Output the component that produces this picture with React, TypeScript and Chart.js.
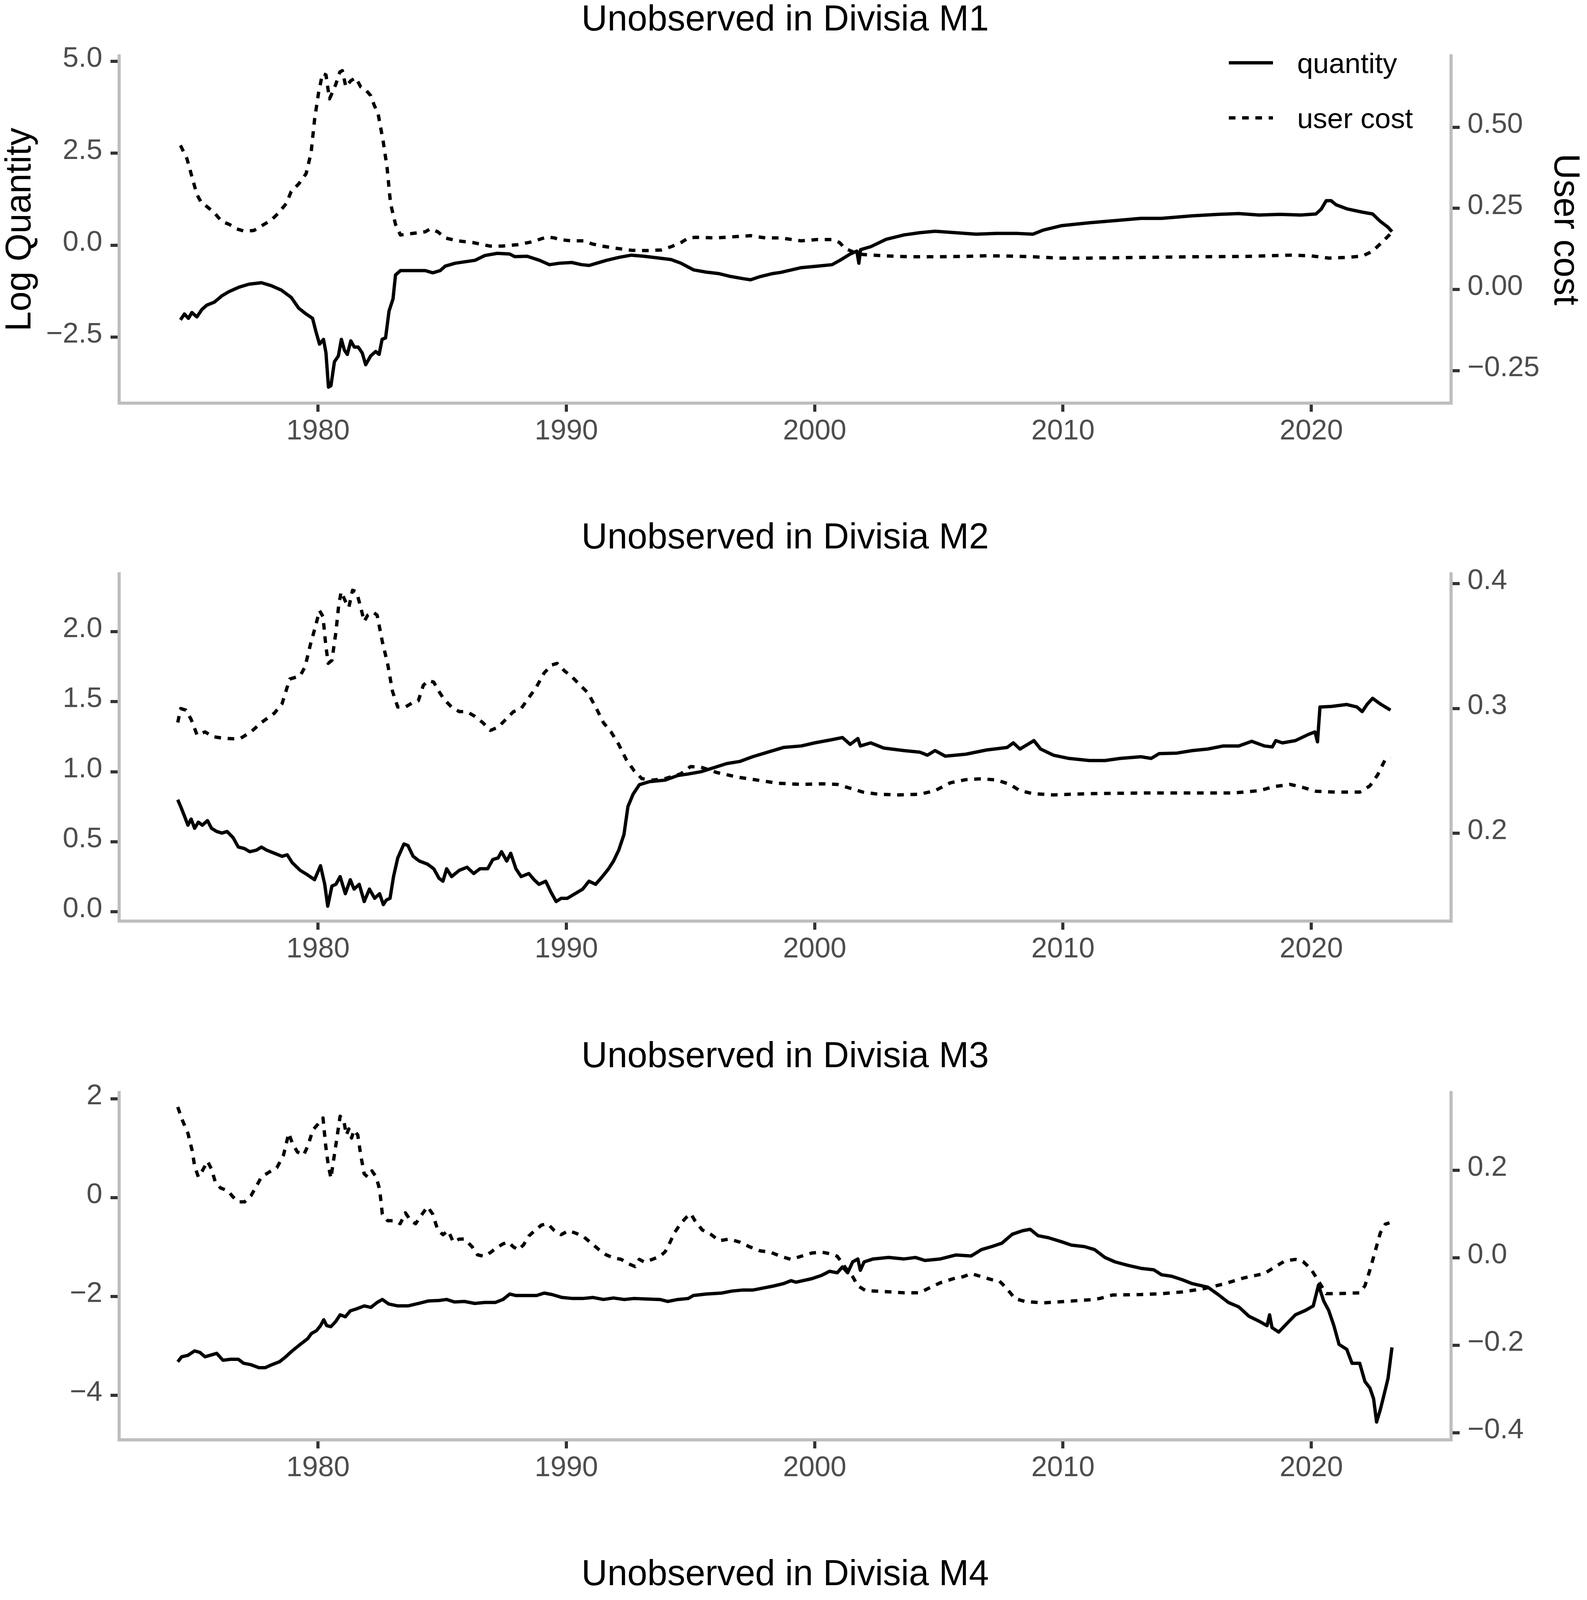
import React, { useEffect, useRef } from "react";
import { Chart, registerables } from "chart.js";

Chart.register(...registerables);

const FONT = "'Liberation Sans', Arial, Helvetica, sans-serif";

// ---------------- axis / text data ----------------
const xTickYears = [1980, 1990, 2000, 2010, 2020];
const xRange = [1971.99, 2025.63];
const panelTitles = [
  "Unobserved in Divisia M1",
  "Unobserved in Divisia M2",
  "Unobserved in Divisia M3",
  "Unobserved in Divisia M4",
];
const seriesLabels = ["quantity", "user cost"];
const leftAxisTitle = "Log Quantity";
const rightAxisTitle = "User cost";

const m1LeftTicks = [-2.5, 0, 2.5, 5];
const m1RightTicks = [-0.25, 0, 0.25, 0.5];
const m2LeftTicks = [0, 0.5, 1, 1.5, 2];
const m2RightTicks = [0.2, 0.3, 0.4];
const m3LeftTicks = [-4, -2, 0, 2];
const m3RightTicks = [-0.4, -0.2, 0, 0.2];
const m4LeftTicks = [-2, 0, 2];
const m4RightTicks = [-0.2, 0, 0.2];

// ---------------- series data: [year, value] ----------------
const m1Quantity: [number, number][] = [
  [1974.46,-2.03],[1974.62,-1.87],[1974.78,-1.99],[1974.92,-1.83],[1975.12,-1.95],[1975.32,-1.75],[1975.52,-1.63],[1975.82,-1.55],
  [1976.12,-1.38],[1976.42,-1.26],[1976.82,-1.14],[1977.22,-1.06],[1977.72,-1.02],[1978.12,-1.10],[1978.52,-1.22],[1978.92,-1.42],
  [1979.22,-1.71],[1979.52,-1.87],[1979.78,-1.99],[1979.92,-2.36],[1980.06,-2.69],[1980.22,-2.56],[1980.32,-2.93],[1980.42,-3.86],
  [1980.52,-3.82],[1980.66,-3.17],[1980.82,-3.01],[1980.94,-2.56],[1981.06,-2.85],[1981.18,-2.97],[1981.32,-2.60],[1981.46,-2.77],
  [1981.62,-2.77],[1981.78,-2.93],[1981.92,-3.25],[1982.12,-3.01],[1982.32,-2.89],[1982.46,-2.97],[1982.58,-2.56],[1982.72,-2.52],
  [1982.86,-1.79],[1983.02,-1.46],[1983.12,-0.81],[1983.32,-0.69],[1983.82,-0.69],[1984.32,-0.69],[1984.62,-0.75],[1984.92,-0.69],
  [1985.12,-0.57],[1985.52,-0.49],[1985.92,-0.45],[1986.32,-0.41],[1986.72,-0.28],[1987.22,-0.22],[1987.72,-0.24],[1987.92,-0.31],
  [1988.42,-0.30],[1988.92,-0.41],[1989.32,-0.53],[1989.72,-0.49],[1990.22,-0.47],[1990.62,-0.53],[1990.92,-0.55],[1991.22,-0.49],
  [1991.62,-0.41],[1992.12,-0.33],[1992.62,-0.27],[1993.12,-0.30],[1993.62,-0.34],[1994.22,-0.39],[1994.62,-0.49],[1995.12,-0.67],
  [1995.62,-0.73],[1996.12,-0.77],[1996.62,-0.85],[1997.12,-0.91],[1997.42,-0.94],[1997.82,-0.85],[1998.32,-0.77],[1998.63,-0.74],
  [1999.46,-0.61],[2000.08,-0.57],[2000.7,-0.53],[2001.02,-0.41],[2001.43,-0.24],[2001.7,-0.16],[2001.78,-0.49],[2001.85,-0.12],
  [2002.26,-0.04],[2002.88,0.16],[2003.6,0.28],[2004.23,0.34],[2004.85,0.38],[2005.68,0.34],[2006.5,0.30],[2007.34,0.32],
  [2008.17,0.32],[2008.79,0.30],[2009.2,0.41],[2009.93,0.53],[2011.07,0.61],[2012.1,0.67],[2013.14,0.73],[2013.97,0.73],
  [2015.21,0.80],[2016.25,0.84],[2017.08,0.86],[2017.9,0.82],[2018.74,0.84],[2019.57,0.82],[2020.19,0.85],[2020.4,0.98],
  [2020.6,1.21],[2020.8,1.21],[2021.0,1.10],[2021.43,0.99],[2022.05,0.90],[2022.47,0.85],[2022.78,0.65],[2023.09,0.49],[2023.25,0.37],
];
const m1UserCost: [number, number][] = [
  [1974.46,0.444],[1974.72,0.403],[1974.92,0.348],[1975.12,0.293],[1975.32,0.265],[1975.52,0.256],[1975.82,0.237],[1976.12,0.210],
  [1976.42,0.201],[1976.72,0.187],[1977.02,0.180],[1977.42,0.182],[1977.72,0.196],[1978.12,0.214],[1978.42,0.237],[1978.72,0.265],
  [1978.92,0.302],[1979.22,0.325],[1979.52,0.357],[1979.72,0.421],[1979.86,0.523],[1980.02,0.605],[1980.18,0.665],[1980.32,0.661],
  [1980.46,0.587],[1980.62,0.614],[1980.72,0.633],[1980.88,0.670],[1980.98,0.674],[1981.12,0.624],[1981.32,0.643],[1981.52,0.652],
  [1981.72,0.624],[1981.92,0.615],[1982.12,0.597],[1982.26,0.568],[1982.42,0.541],[1982.62,0.458],[1982.78,0.376],[1982.92,0.265],
  [1983.12,0.201],[1983.32,0.168],[1983.82,0.173],[1984.32,0.178],[1984.52,0.187],[1984.82,0.178],[1985.12,0.159],[1985.62,0.150],
  [1986.22,0.145],[1986.92,0.134],[1987.42,0.134],[1988.02,0.138],[1988.62,0.147],[1989.22,0.162],[1989.52,0.159],[1989.72,0.154],
  [1990.22,0.150],[1990.72,0.150],[1991.02,0.141],[1991.42,0.134],[1992.02,0.127],[1992.62,0.121],[1993.22,0.120],[1993.82,0.122],
  [1994.22,0.132],[1994.62,0.145],[1994.92,0.159],[1995.22,0.161],[1996.02,0.159],[1996.82,0.163],[1997.42,0.166],[1998.02,0.159],
  [1998.63,0.159],[1999.46,0.150],[2000.08,0.154],[2000.7,0.154],[2001.0,0.145],[2001.22,0.127],[2001.64,0.113],[2001.95,0.108],
  [2002.78,0.104],[2003.81,0.101],[2004.85,0.101],[2005.89,0.102],[2006.92,0.104],[2007.96,0.103],[2008.79,0.101],[2009.82,0.097],
  [2011.07,0.097],[2013.14,0.099],[2015.21,0.101],[2017.28,0.102],[2019.15,0.106],[2019.98,0.104],[2020.7,0.097],[2021.43,0.099],
  [2022.05,0.103],[2022.47,0.118],[2022.78,0.141],[2023.09,0.164],[2023.25,0.177],
];

const m2Quantity: [number, number][] = [
  [1974.35,0.80],[1974.47,0.751],[1974.62,0.684],[1974.76,0.618],[1974.89,0.662],[1975.03,0.596],[1975.18,0.64],[1975.34,0.618],
  [1975.55,0.651],[1975.71,0.596],[1975.92,0.573],[1976.13,0.562],[1976.34,0.573],[1976.58,0.529],[1976.79,0.462],[1977.04,0.451],
  [1977.25,0.429],[1977.52,0.44],[1977.72,0.462],[1977.93,0.44],[1978.24,0.418],[1978.55,0.396],[1978.76,0.407],[1978.96,0.351],
  [1979.28,0.296],[1979.59,0.262],[1979.86,0.229],[1980.1,0.329],[1980.27,0.196],[1980.39,0.04],[1980.56,0.184],[1980.72,0.196],
  [1980.89,0.251],[1981.1,0.129],[1981.3,0.229],[1981.45,0.162],[1981.66,0.196],[1981.86,0.073],[1982.07,0.162],[1982.28,0.096],
  [1982.48,0.129],[1982.63,0.051],[1982.75,0.084],[1982.9,0.096],[1983.04,0.251],[1983.21,0.384],[1983.46,0.484],[1983.62,0.473],
  [1983.83,0.396],[1984.08,0.362],[1984.41,0.34],[1984.66,0.307],[1984.87,0.24],[1985.03,0.218],[1985.18,0.307],[1985.38,0.251],
  [1985.69,0.296],[1986.0,0.318],[1986.27,0.273],[1986.52,0.307],[1986.83,0.307],[1987.04,0.373],[1987.25,0.384],[1987.39,0.429],
  [1987.6,0.362],[1987.76,0.418],[1987.97,0.307],[1988.18,0.251],[1988.49,0.273],[1988.7,0.229],[1988.9,0.196],[1989.17,0.218],
  [1989.38,0.14],[1989.59,0.073],[1989.79,0.096],[1990.04,0.096],[1990.35,0.129],[1990.66,0.162],[1990.91,0.218],[1991.18,0.196],
  [1991.45,0.251],[1991.7,0.307],[1991.9,0.362],[1992.11,0.44],[1992.32,0.551],[1992.48,0.751],[1992.69,0.84],[1992.94,0.907],
  [1993.35,0.929],[1993.98,0.94],[1994.49,0.973],[1994.91,0.984],[1995.42,1.0],[1995.94,1.029],[1996.46,1.058],[1996.98,1.073],
  [1997.5,1.107],[1998.12,1.14],[1998.74,1.173],[1999.46,1.184],[2000.0,1.206],[2000.7,1.229],[2001.12,1.244],[2001.43,1.195],
  [2001.74,1.237],[2001.84,1.184],[2002.26,1.206],[2002.78,1.169],[2003.6,1.151],[2004.23,1.14],[2004.54,1.118],[2004.85,1.151],
  [2005.26,1.111],[2006.09,1.125],[2006.92,1.155],[2007.75,1.173],[2008.0,1.206],[2008.27,1.162],[2008.58,1.195],[2008.83,1.222],
  [2009.1,1.162],[2009.62,1.118],[2010.24,1.095],[2011.07,1.08],[2011.69,1.08],[2012.31,1.095],[2013.14,1.107],[2013.55,1.095],
  [2013.87,1.129],[2014.59,1.133],[2015.21,1.151],[2015.83,1.162],[2016.46,1.184],[2017.08,1.184],[2017.6,1.217],[2018.11,1.184],
  [2018.43,1.177],[2018.57,1.222],[2018.84,1.206],[2019.36,1.222],[2019.88,1.266],[2020.15,1.284],[2020.25,1.213],[2020.35,1.462],
  [2020.81,1.466],[2021.43,1.48],[2021.84,1.462],[2022.05,1.429],[2022.26,1.484],[2022.47,1.524],[2022.78,1.484],[2023.19,1.44],
];
const m2UserCost: [number, number][] = [
  [1974.35,0.2887],[1974.47,0.2999],[1974.68,0.2986],[1974.89,0.2912],[1975.13,0.2787],[1975.45,0.2812],[1975.76,0.2774],[1976.17,0.2762],
  [1976.58,0.2757],[1976.89,0.2762],[1977.3,0.2812],[1977.72,0.2887],[1978.24,0.2962],[1978.55,0.3037],[1978.86,0.3235],[1979.28,0.3260],
  [1979.48,0.3335],[1979.69,0.3509],[1979.9,0.3659],[1980.06,0.3783],[1980.2,0.3734],[1980.31,0.3509],[1980.41,0.3360],[1980.56,0.3385],
  [1980.72,0.3610],[1980.83,0.3821],[1980.93,0.3933],[1981.1,0.3858],[1981.24,0.3808],[1981.39,0.3946],[1981.55,0.3933],[1981.72,0.3808],
  [1981.86,0.3696],[1982.0,0.3746],[1982.22,0.3770],[1982.38,0.3746],[1982.59,0.3534],[1982.8,0.3360],[1983.0,0.3136],[1983.21,0.3011],
  [1983.52,0.3011],[1983.83,0.3049],[1984.04,0.3061],[1984.24,0.3185],[1984.45,0.3223],[1984.66,0.3210],[1984.87,0.3136],[1985.07,0.3074],
  [1985.38,0.3011],[1985.69,0.2974],[1986.0,0.2974],[1986.31,0.2937],[1986.63,0.2887],[1986.94,0.2824],[1987.25,0.2849],[1987.56,0.2912],
  [1987.87,0.2974],[1988.18,0.2999],[1988.49,0.3086],[1988.8,0.3173],[1989.11,0.3285],[1989.42,0.3348],[1989.63,0.3360],[1989.94,0.3298],
  [1990.25,0.3248],[1990.56,0.3185],[1990.87,0.3124],[1991.18,0.3011],[1991.49,0.2887],[1991.8,0.2812],[1992.11,0.2712],[1992.42,0.2588],
  [1992.73,0.2501],[1993.04,0.2438],[1993.46,0.2426],[1993.98,0.2438],[1994.6,0.2476],[1995.0,0.2534],[1995.42,0.2530],[1996.04,0.2488],
  [1996.87,0.2451],[1997.7,0.2426],[1998.53,0.2401],[1999.46,0.2392],[2000.29,0.2397],[2000.91,0.2392],[2001.33,0.2367],[2001.95,0.2330],
  [2002.57,0.2313],[2003.4,0.2308],[2004.23,0.2313],[2004.85,0.2342],[2005.47,0.2405],[2006.09,0.2430],[2006.72,0.2437],[2007.34,0.2427],
  [2007.86,0.2392],[2008.27,0.2342],[2008.79,0.2318],[2009.62,0.2308],[2011.07,0.2318],[2013.14,0.2323],[2015.21,0.2323],[2016.87,0.2323],
  [2017.9,0.2342],[2018.53,0.2375],[2019.15,0.2392],[2019.67,0.2367],[2020.19,0.2337],[2021.02,0.2330],[2021.95,0.2330],[2022.36,0.2380],
  [2022.67,0.2467],[2022.98,0.2592],[2023.19,0.2605],
];

const m3Quantity: [number, number][] = [
  [1974.35,-3.32],[1974.51,-3.22],[1974.76,-3.19],[1975.03,-3.10],[1975.24,-3.13],[1975.45,-3.22],[1975.65,-3.19],[1975.92,-3.15],
  [1976.17,-3.29],[1976.48,-3.27],[1976.79,-3.27],[1977.0,-3.35],[1977.3,-3.38],[1977.62,-3.44],[1977.87,-3.44],[1978.14,-3.38],
  [1978.45,-3.32],[1978.7,-3.22],[1978.96,-3.10],[1979.28,-2.97],[1979.59,-2.85],[1979.73,-2.75],[1979.94,-2.69],[1980.1,-2.59],
  [1980.23,-2.47],[1980.35,-2.59],[1980.52,-2.61],[1980.72,-2.50],[1980.89,-2.37],[1981.1,-2.41],[1981.3,-2.29],[1981.55,-2.25],
  [1981.86,-2.19],[1982.13,-2.22],[1982.38,-2.12],[1982.59,-2.06],[1982.84,-2.15],[1983.21,-2.19],[1983.62,-2.19],[1984.04,-2.14],
  [1984.45,-2.09],[1984.87,-2.08],[1985.18,-2.06],[1985.49,-2.11],[1985.9,-2.10],[1986.31,-2.14],[1986.73,-2.12],[1987.14,-2.12],
  [1987.45,-2.06],[1987.72,-1.95],[1987.97,-1.98],[1988.39,-1.98],[1988.8,-1.98],[1989.11,-1.93],[1989.42,-1.96],[1989.83,-2.02],
  [1990.25,-2.04],[1990.66,-2.04],[1991.08,-2.02],[1991.49,-2.06],[1991.9,-2.03],[1992.32,-2.06],[1992.73,-2.04],[1993.25,-2.05],
  [1993.77,-2.06],[1994.08,-2.10],[1994.49,-2.06],[1994.91,-2.04],[1995.11,-1.98],[1995.63,-1.95],[1996.25,-1.93],[1996.67,-1.89],
  [1997.08,-1.87],[1997.5,-1.87],[1997.91,-1.83],[1998.32,-1.79],[1998.74,-1.74],[1999.05,-1.68],[1999.25,-1.71],[1999.88,-1.64],
  [2000.29,-1.57],[2000.6,-1.49],[2000.91,-1.52],[2001.12,-1.40],[2001.33,-1.52],[2001.53,-1.30],[2001.74,-1.24],[2001.84,-1.47],
  [2001.99,-1.30],[2002.36,-1.24],[2002.98,-1.21],[2003.6,-1.24],[2004.06,-1.21],[2004.44,-1.27],[2005.06,-1.24],[2005.68,-1.16],
  [2006.3,-1.18],[2006.72,-1.05],[2007.13,-0.99],[2007.54,-0.92],[2007.96,-0.74],[2008.37,-0.67],[2008.68,-0.64],[2009.0,-0.77],
  [2009.41,-0.81],[2009.93,-0.89],[2010.34,-0.96],[2010.86,-0.99],[2011.27,-1.05],[2011.69,-1.21],[2012.1,-1.30],[2012.62,-1.37],
  [2013.14,-1.43],[2013.66,-1.46],[2013.97,-1.56],[2014.38,-1.59],[2014.8,-1.66],[2015.21,-1.74],[2015.83,-1.81],[2016.25,-1.96],
  [2016.66,-2.12],[2017.08,-2.21],[2017.49,-2.40],[2017.9,-2.50],[2018.22,-2.59],[2018.32,-2.37],[2018.42,-2.63],[2018.69,-2.72],
  [2019.05,-2.53],[2019.36,-2.37],[2019.77,-2.28],[2020.08,-2.19],[2020.29,-1.77],[2020.5,-2.09],[2020.7,-2.28],[2020.91,-2.59],
  [2021.12,-2.97],[2021.43,-3.07],[2021.64,-3.35],[2021.95,-3.35],[2022.16,-3.72],[2022.36,-3.85],[2022.51,-4.07],[2022.63,-4.54],
  [2022.78,-4.29],[2022.92,-4.01],[2023.09,-3.66],[2023.25,-3.03],
];
const m3UserCost: [number, number][] = [
  [1974.35,0.345],[1974.55,0.313],[1974.76,0.285],[1974.93,0.2455],[1975.03,0.21],[1975.18,0.185],[1975.34,0.199],[1975.55,0.221],
  [1975.71,0.203],[1975.86,0.174],[1976.07,0.160],[1976.38,0.153],[1976.58,0.139],[1976.79,0.128],[1977.04,0.128],[1977.3,0.142],
  [1977.52,0.164],[1977.72,0.185],[1978.03,0.196],[1978.34,0.206],[1978.61,0.235],[1978.82,0.285],[1978.96,0.263],[1979.17,0.242],
  [1979.42,0.235],[1979.59,0.256],[1979.79,0.292],[1980.0,0.306],[1980.2,0.320],[1980.31,0.256],[1980.41,0.213],[1980.52,0.182],
  [1980.62,0.221],[1980.77,0.278],[1980.89,0.324],[1981.04,0.313],[1981.14,0.281],[1981.24,0.295],[1981.35,0.274],[1981.45,0.292],
  [1981.6,0.281],[1981.72,0.235],[1981.86,0.192],[1982.0,0.185],[1982.17,0.199],[1982.34,0.185],[1982.48,0.157],[1982.59,0.100],
  [1982.8,0.085],[1983.11,0.085],[1983.31,0.078],[1983.52,0.103],[1983.73,0.085],[1983.93,0.078],[1984.14,0.096],[1984.41,0.117],
  [1984.62,0.100],[1984.82,0.064],[1985.03,0.053],[1985.24,0.062],[1985.45,0.036],[1985.69,0.043],[1985.9,0.043],[1986.21,0.025],
  [1986.42,0.007],[1986.69,0.0035],[1986.94,0.012],[1987.14,0.021],[1987.45,0.032],[1987.66,0.036],[1987.87,0.025],[1988.07,0.018],
  [1988.28,0.030],[1988.49,0.050],[1988.76,0.064],[1989.0,0.075],[1989.25,0.078],[1989.52,0.062],[1989.79,0.053],[1990.08,0.062],
  [1990.35,0.057],[1990.66,0.050],[1991.04,0.032],[1991.33,0.018],[1991.6,0.007],[1991.9,0.0],[1992.21,-0.0035],[1992.52,-0.014],
  [1992.77,-0.02],[1992.94,-0.0035],[1993.15,-0.010],[1993.46,-0.0035],[1993.77,0.0035],[1993.98,0.014],[1994.18,0.036],[1994.35,0.057],
  [1994.6,0.078],[1994.84,0.093],[1995.01,0.101],[1995.18,0.085],[1995.47,0.064],[1995.84,0.053],[1996.15,0.039],[1996.56,0.043],
  [1996.98,0.036],[1997.39,0.025],[1997.8,0.016],[1998.22,0.013],[1998.63,0.0035],[1999.05,-0.0036],[1999.46,0.0036],[1999.88,0.011],
  [2000.29,0.013],[2000.7,0.0085],[2000.91,0.0036],[2001.22,-0.021],[2001.53,-0.043],[2001.74,-0.064],[2002.05,-0.075],[2002.78,-0.077],
  [2003.6,-0.080],[2004.23,-0.080],[2004.54,-0.071],[2005.06,-0.057],[2005.68,-0.046],[2005.99,-0.043],[2006.3,-0.036],[2006.72,-0.043],
  [2007.13,-0.050],[2007.44,-0.053],[2007.75,-0.071],[2008.06,-0.093],[2008.48,-0.100],[2009.2,-0.103],[2010.03,-0.100],[2011.07,-0.096],
  [2011.48,-0.093],[2012.0,-0.085],[2013.14,-0.084],[2013.97,-0.082],[2014.8,-0.078],[2015.63,-0.071],[2016.46,-0.060],[2017.28,-0.046],
  [2018.11,-0.036],[2018.53,-0.021],[2018.94,-0.007],[2019.36,-0.0036],[2019.67,-0.0085],[2019.98,-0.025],[2020.29,-0.053],[2020.6,-0.082],
  [2021.02,-0.082],[2021.95,-0.080],[2022.16,-0.064],[2022.36,-0.028],[2022.57,0.014],[2022.78,0.057],[2022.98,0.077],[2023.15,0.080],
];

const m4Quantity: [number, number][] = [
  [1974.43,-0.203],[1974.64,-0.255],[1974.95,-0.292],[1975.26,-0.281],[1975.57,-0.255],[1975.88,-0.271],[1976.19,-0.229],[1976.6,-0.245],
  [1977.01,-0.203],[1977.42,-0.208],[1977.84,-0.219],[1978.25,-0.219],[1978.56,-0.255],[1978.87,-0.281],[1979.18,-0.344],[1979.48,-0.359],
  [1979.79,-0.4375],[1980.1,-0.5],[1980.47,-0.552],[1980.82,-0.604],[1981.09,-0.698],[1981.44,-0.74],[1981.79,-0.786],[1982.16,-0.828],
  [1982.47,-0.854],[1982.89,-0.865],[1983.3,-0.906],[1983.71,-0.88],[1984.02,-0.932],[1984.33,-0.906],[1984.64,-0.958],[1985.05,-0.958],
  [1985.46,-0.948],[1985.88,-0.917],[1986.19,-0.896],[1986.49,-0.828],[1986.91,-0.74],[1987.32,-0.724],[1987.63,-0.76],[1987.94,-0.74],
  [1988.25,-0.776],[1988.6,-0.75],[1988.87,-0.854],[1989.07,-0.958],[1989.28,-1.089],[1989.59,-1.156],[1989.79,-1.219],[1990.1,-1.281],
  [1990.41,-1.297],[1990.62,-1.385],[1990.82,-1.297],[1991.03,-1.245],[1991.24,-1.271],[1991.48,-1.167],[1991.69,-1.323],[1991.96,-1.193],
  [1992.16,-1.271],[1992.47,-1.297],[1992.78,-1.193],[1993.09,-1.245],[1993.4,-1.177],[1993.81,-1.219],[1994.23,-1.271],[1994.43,-1.208],
  [1994.74,-1.245],[1995.05,-1.297],[1995.26,-1.401],[1995.57,-1.417],[1995.98,-1.427],[1996.29,-1.479],[1996.49,-1.385],[1996.8,-1.505],
  [1997.11,-1.469],[1997.38,-1.583],[1997.63,-1.557],[1997.88,-1.635],[1998.14,-1.792],[1998.35,-2.0],[1998.56,-2.0],[1998.76,-2.052],
  [1998.97,-2.182],[1999.07,-2.417],[1999.28,-2.443],[1999.46,-2.50],[1999.67,-2.32],[1999.88,-2.45],[2000.08,-2.40],[2000.39,-2.45],
  [2000.6,-2.40],[2000.81,-2.55],[2001.02,-2.50],[2001.16,-2.68],[2001.29,-2.89],[2001.43,-2.71],[2001.53,-2.73],[2001.7,-2.48],
  [2001.78,-3.09],[2001.95,-3.02],[2002.26,-3.07],[2002.57,-2.98],[2002.98,-2.94],[2003.3,-3.04],[2003.61,-3.07],[2003.92,-3.07],
  [2004.06,-2.99],[2004.23,-3.12],[2004.44,-3.23],[2004.68,-3.14],[2004.81,-2.84],[2004.95,-2.89],[2005.16,-2.94],[2005.37,-2.94],
  [2005.51,-2.63],[2005.72,-2.84],[2005.99,-2.86],[2006.3,-2.78],[2006.55,-2.57],[2006.76,-2.76],[2007.13,-2.73],[2007.44,-2.73],
  [2007.65,-2.57],[2007.79,-2.89],[2007.96,-2.73],[2008.12,-3.09],[2008.27,-3.23],[2008.48,-3.18],[2008.62,-3.09],[2008.73,-1.84],
  [2008.79,-0.85],[2008.89,-0.95],[2009.1,-0.77],[2009.31,-0.67],[2009.51,-0.83],[2009.72,-0.70],[2009.93,-0.77],[2010.13,-0.70],
  [2010.45,-0.67],[2010.76,-0.63],[2011.07,-0.59],[2011.48,-0.51],[2011.9,-0.46],[2012.52,-0.46],[2013.14,-0.43],[2013.55,-0.41],
  [2013.97,-0.36],[2014.59,-0.31],[2015.21,-0.26],[2015.83,-0.24],[2016.46,-0.23],[2017.28,-0.24],[2018.11,-0.28],[2018.74,-0.28],
  [2019.57,-0.24],[2020.19,-0.29],[2020.5,-0.38],[2020.91,-0.31],[2021.22,-0.15],[2021.64,-0.07],[2021.95,0.0],[2022.36,-0.04],
  [2022.78,-0.09],[2023.19,-0.12],
];
const m4UserCost: [number, number][] = [
  [1974.43,0.001],[1974.95,0.001],[1976.39,0.001],[1978.45,0.001],[1979.9,0.001],[1980.21,0.0047],[1980.52,0.0147],[1980.82,0.026],
  [1981.13,0.035],[1981.44,0.040],[1981.86,0.034],[1982.27,0.044],[1982.68,0.040],[1983.09,0.038],[1983.51,0.035],[1983.92,0.044],
  [1984.27,0.051],[1984.54,0.040],[1984.85,0.044],[1985.15,0.038],[1985.46,0.041],[1985.77,0.035],[1986.08,0.038],[1986.39,0.035],
  [1986.8,0.026],[1987.22,0.032],[1987.63,0.035],[1988.04,0.041],[1988.35,0.038],[1988.66,0.044],[1988.97,0.053],[1989.18,0.066],
  [1989.48,0.079],[1989.79,0.083],[1990.1,0.085],[1990.41,0.087],[1990.72,0.085],[1991.03,0.0735],[1991.34,0.065],[1991.75,0.056],
  [1992.16,0.053],[1992.68,0.051],[1993.2,0.048],[1993.51,0.050],[1993.92,0.058],[1994.23,0.070],[1994.64,0.085],[1994.95,0.097],
  [1995.36,0.091],[1995.77,0.093],[1996.08,0.085],[1996.39,0.095],[1996.8,0.094],[1997.22,0.097],[1997.53,0.087],[1997.73,0.094],
  [1998.04,0.112],[1998.35,0.141],[1998.66,0.165],[1998.97,0.194],[1999.18,0.209],[1999.36,0.215],[1999.67,0.229],[1999.98,0.253],
  [2000.29,0.271],[2000.6,0.291],[2000.81,0.309],[2001.02,0.315],[2001.22,0.288],[2001.43,0.300],[2001.53,0.312],[2001.74,0.276],
  [2001.95,0.259],[2002.16,0.256],[2002.36,0.247],[2002.67,0.259],[2002.88,0.282],[2003.09,0.294],[2003.3,0.271],[2003.61,0.262],
  [2003.92,0.271],[2004.12,0.294],[2004.33,0.276],[2004.64,0.288],[2004.95,0.300],[2005.26,0.318],[2005.58,0.344],[2005.89,0.338],
  [2006.09,0.344],[2006.4,0.356],[2006.72,0.362],[2007.13,0.365],[2007.44,0.362],[2007.75,0.356],[2008.0,0.350],[2008.12,0.341],
  [2008.27,0.350],[2008.48,0.329],[2008.58,0.306],[2008.66,0.247],[2008.73,0.194],[2008.79,0.118],[2008.89,0.071],[2009.1,0.059],
  [2009.41,0.047],[2009.82,0.053],[2010.24,0.047],[2010.55,0.044],[2010.86,0.035],[2011.27,0.026],[2011.9,0.0235],[2012.52,0.0235],
  [2013.14,0.0206],[2013.97,0.0147],[2014.8,0.0088],[2015.63,0.0059],[2016.66,0.0059],[2017.7,0.0029],[2018.74,0.0047],[2019.77,0.0071],
  [2020.08,0.0118],[2020.29,0.0224],[2020.6,0.0147],[2021.22,0.0106],[2021.84,0.0059],[2022.47,0.0047],[2023.09,0.0059],
];

// ---------------- layout (not data) ----------------
const CANVAS_W = 4063;
const PLOT_TOP = 143;
const PLOT_H = 889;
const LEFT_AXIS_W = 305;
const RIGHT_AXIS_W = 348;

type AxisSpec = { min: number; max: number; ticks: number[]; dec: number };
type PanelSpec = {
  title: string;
  quantity: [number, number][];
  userCost: [number, number][];
  left: AxisSpec;
  right: AxisSpec;
  top: number;
  height: number;
  first: boolean;
};

const PANELS: PanelSpec[] = [
  { title: panelTitles[0], quantity: m1Quantity, userCost: m1UserCost,
    left: { min: -4.294, max: 5.149, ticks: m1LeftTicks, dec: 1 },
    right: { min: -0.3495, max: 0.7195, ticks: m1RightTicks, dec: 2 },
    top: 0, height: 1326, first: true },
  { title: panelTitles[1], quantity: m2Quantity, userCost: m2UserCost,
    left: { min: -0.0666, max: 2.413, ticks: m2LeftTicks, dec: 1 },
    right: { min: 0.1298, max: 0.4077, ticks: m2RightTicks, dec: 1 },
    top: 1326, height: 1328, first: false },
  { title: panelTitles[2], quantity: m3Quantity, userCost: m3UserCost,
    left: { min: -4.9, max: 2.126, ticks: m3LeftTicks, dec: 0 },
    right: { min: -0.4163, max: 0.378, ticks: m3RightTicks, dec: 1 },
    top: 2654, height: 1326, first: false },
  { title: panelTitles[3], quantity: m4Quantity, userCost: m4UserCost,
    left: { min: -3.5, max: 2.297, ticks: m4LeftTicks, dec: 0 },
    right: { min: -0.2576, max: 0.397, ticks: m4RightTicks, dec: 1 },
    top: 3980, height: 1150, first: false },
];

const fmt = (v: number, d: number) => {
  const s = Math.abs(v).toFixed(d);
  return (v < -1e-9 ? "\u2212" : "") + s;
};

const insideLegend = {
  id: "insideLegend",
  afterDraw(chart: any) {
    const ctx = chart.ctx as CanvasRenderingContext2D;
    const x0 = 3146, keyW = 113, y0 = 160.7, gap = 141, textX = 3321;
    chart.data.datasets.forEach((ds: any, i: number) => {
      const y = y0 + i * gap;
      ctx.save();
      ctx.strokeStyle = ds.borderColor;
      ctx.lineWidth = ds.borderWidth;
      ctx.lineCap = "butt";
      ctx.setLineDash(ds.borderDash || []);
      ctx.beginPath();
      ctx.moveTo(x0, y);
      ctx.lineTo(x0 + keyW, y);
      ctx.stroke();
      ctx.setLineDash([]);
      ctx.fillStyle = "#000000";
      ctx.font = `73px ${FONT}`;
      ctx.textAlign = "left";
      ctx.textBaseline = "middle";
      ctx.fillText(ds.label, textX, y + 6.5);
      ctx.restore();
    });
  },
};

const tickFont = { family: FONT, size: 73, weight: "normal" as const, lineHeight: 1.2 };
const gridOpts = {
  display: true,
  drawOnChartArea: false,
  drawTicks: true,
  tickLength: 22,
  tickWidth: 8,
  lineWidth: 8,
  tickColor: "#333333",
  color: "#333333",
};
const borderOpts = { display: true, color: "#BEBEBE", width: 8 };

function PanelChart({ spec }: { spec: PanelSpec }) {
  const ref = useRef<HTMLCanvasElement | null>(null);
  useEffect(() => {
    if (!ref.current) return;
    const h = spec.height;
    const chart = new Chart(ref.current, {
      type: "line",
      data: {
        datasets: [
          {
            label: seriesLabels[0],
            data: spec.quantity.map(([x, y]) => ({ x, y })),
            yAxisID: "y",
            borderColor: "#000000",
            borderWidth: 8.5,
            borderDash: [],
            borderCapStyle: "butt",
            borderJoinStyle: "round",
            pointRadius: 0,
            tension: 0,
            fill: false,
          },
          {
            label: seriesLabels[1],
            data: spec.userCost.map(([x, y]) => ({ x, y })),
            yAxisID: "y1",
            borderColor: "#000000",
            borderWidth: 8.5,
            borderDash: [17, 17],
            borderCapStyle: "butt",
            borderJoinStyle: "round",
            pointRadius: 0,
            tension: 0,
            fill: false,
          },
        ],
      },
      options: {
        animation: false,
        responsive: false,
        maintainAspectRatio: false,
        events: [],
        layout: { padding: 0 },
        plugins: {
          legend: { display: false },
          tooltip: { enabled: false },
          title: {
            display: true,
            text: spec.title,
            fullSize: false,
            color: "#000000",
            font: { family: FONT, size: 92, weight: "normal", lineHeight: 1 },
            padding: { top: 7, bottom: PLOT_TOP - 92 - 7 },
          },
        },
        scales: {
          x: {
            type: "linear",
            min: xRange[0],
            max: xRange[1],
            afterBuildTicks: (s: any) => {
              s.ticks = xTickYears.map((v) => ({ value: v }));
            },
            afterFit: (s: any) => {
              s.height = h - PLOT_TOP - PLOT_H;
            },
            ticks: {
              callback: (v: any) => String(v),
              font: tickFont,
              color: "#4D4D4D",
              padding: 7,
              maxRotation: 0,
              minRotation: 0,
              autoSkip: false,
            },
            grid: gridOpts,
            border: borderOpts,
          },
          y: {
            type: "linear",
            position: "left",
            min: spec.left.min,
            max: spec.left.max,
            afterBuildTicks: (s: any) => {
              s.ticks = spec.left.ticks.map((v) => ({ value: v }));
            },
            afterFit: (s: any) => {
              s.width = LEFT_AXIS_W;
            },
            ticks: {
              callback: (v: any) => fmt(Number(v), spec.left.dec),
              font: tickFont,
              color: "#4D4D4D",
              padding: 21,
              labelOffset: -6,
              autoSkip: false,
            },
            grid: gridOpts,
            border: borderOpts,
            title: {
              display: spec.first,
              text: leftAxisTitle,
              color: "#000000",
              font: { family: FONT, size: 92, weight: "normal", lineHeight: 1 },
              padding: { top: 7, bottom: 0 },
            },
          },
          y1: {
            type: "linear",
            position: "right",
            min: spec.right.min,
            max: spec.right.max,
            afterBuildTicks: (s: any) => {
              s.ticks = spec.right.ticks.map((v) => ({ value: v }));
            },
            afterFit: (s: any) => {
              s.width = RIGHT_AXIS_W;
            },
            ticks: {
              callback: (v: any) => fmt(Number(v), spec.right.dec),
              font: tickFont,
              color: "#4D4D4D",
              padding: 20,
              labelOffset: -6,
              autoSkip: false,
            },
            grid: gridOpts,
            border: borderOpts,
            title: {
              display: spec.first,
              text: rightAxisTitle,
              color: "#000000",
              font: { family: FONT, size: 92, weight: "normal", lineHeight: 1 },
              padding: { top: 12, bottom: 0 },
            },
          },
        },
      } as any,
      plugins: spec.first ? [insideLegend] : [],
    });
    return () => chart.destroy();
  }, [spec]);

  return (
    <canvas
      ref={ref}
      width={CANVAS_W}
      height={spec.height}
      style={{ position: "absolute", left: 0, top: spec.top, width: CANVAS_W, height: spec.height, display: "block" }}
    />
  );
}

export default function App() {
  return (
    <div style={{ position: "absolute", left: 0, top: 0, width: CANVAS_W, height: 5130, background: "#ffffff", overflow: "hidden" }}>
      {PANELS.map((p, i) => (
        <PanelChart key={i} spec={p} />
      ))}
    </div>
  );
}
